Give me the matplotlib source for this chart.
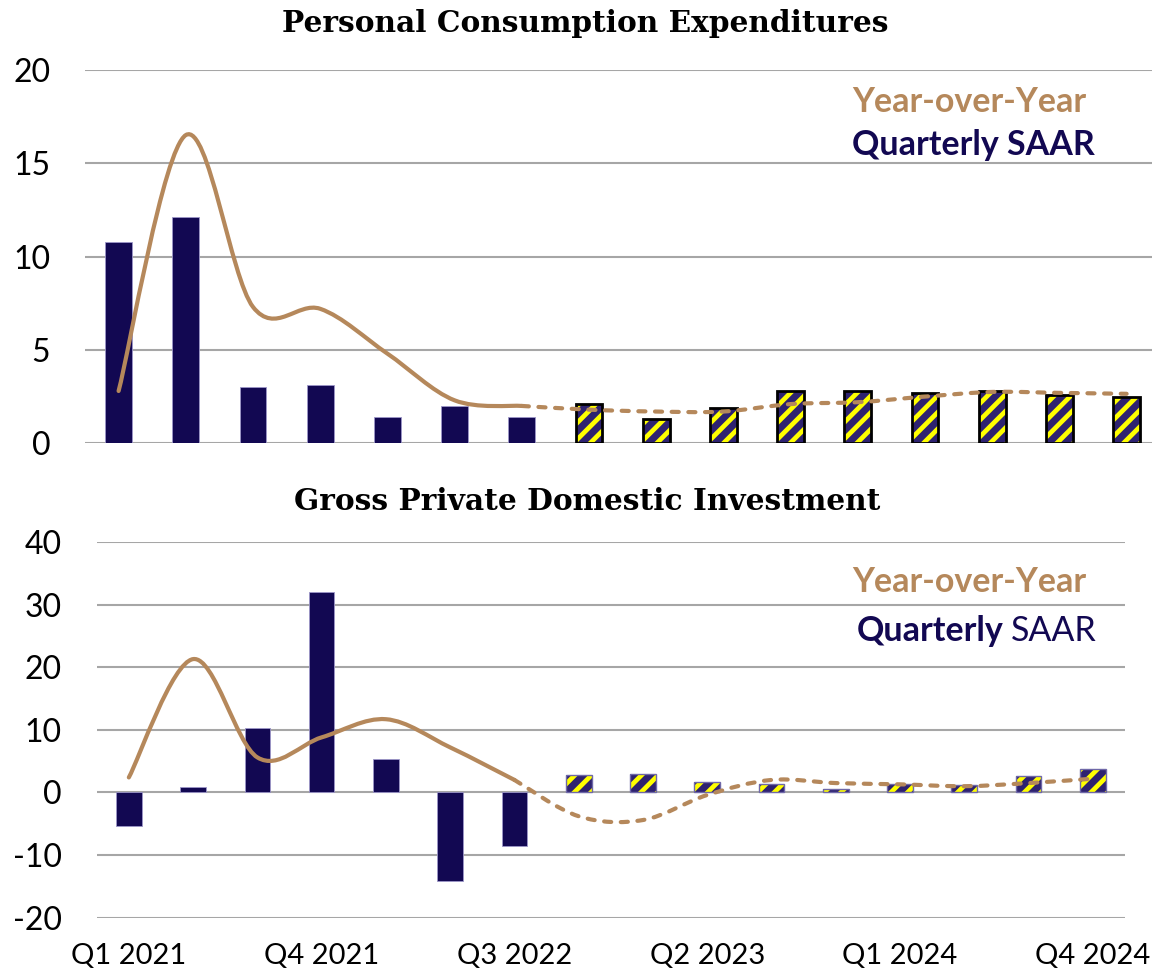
import numpy as np
import matplotlib
matplotlib.use("Agg")
import matplotlib.pyplot as plt
from matplotlib.path import Path
from matplotlib.patches import PathPatch

# data (Q1 2021 .. Q4 2024)
quarters = ["Q1 2021", "Q2 2021", "Q3 2021", "Q4 2021",
            "Q1 2022", "Q2 2022", "Q3 2022", "Q4 2022",
            "Q1 2023", "Q2 2023", "Q3 2023", "Q4 2023",
            "Q1 2024", "Q2 2024", "Q3 2024", "Q4 2024"]
n_actual = 7  # first 7 quarters are actuals, the rest are forecasts

pce_saar = [10.8, 12.1, 3.0, 3.1, 1.4, 2.0, 1.4,
            2.1, 1.3, 1.9, 2.8, 2.8, 2.7, 2.8, 2.6, 2.5]
pce_yoy = [2.8, 16.5, 7.3, 7.2, 4.8, 2.3, 2.0,
           1.8, 1.7, 1.7, 2.1, 2.2, 2.5, 2.75, 2.7, 2.65]

gpdi_saar = [-5.4, 0.8, 10.3, 32.0, 5.4, -14.1, -8.5,
             2.8, 2.9, 1.6, 1.4, 0.5, 1.3, 1.2, 2.7, 3.8]
gpdi_yoy = [2.4, 21.3, 5.6, 8.8, 11.7, 7.2, 2.0,
            -3.8, -4.4, -0.4, 2.0, 1.5, 1.3, 1.0, 1.5, 2.2]

label_idx = [0, 3, 6, 9, 12, 15]

NAVY = "#120852"
HATCH_FILL = "#2e2270"
TAN = "#b5885b"
GRID = "#a6a6a6"

plt.rcParams["hatch.linewidth"] = 3.4
plt.rcParams["font.family"] = ["Lato", "DejaVu Sans"]


def smooth_path(xs, ys):
    # Excel style smoothed line: cubic bezier through every point
    xs = np.asarray(xs, float)
    ys = np.asarray(ys, float)
    pts = np.column_stack([xs, ys])
    ext = np.vstack([pts[0], pts, pts[-1]])
    verts = [pts[0]]
    codes = [Path.MOVETO]
    for i in range(len(pts) - 1):
        p0, p1, p2, p3 = ext[i], ext[i + 1], ext[i + 2], ext[i + 3]
        c1 = p1 + (p2 - p0) / 6.0
        c2 = p2 - (p3 - p1) / 6.0
        verts += [c1, c2, p2]
        codes += [Path.CURVE4] * 3
    return Path(verts, codes)


def draw_panel(ax, saar, yoy, ylim, yticks, hatch_edge, hatch_lw, xlim):
    x = np.arange(len(quarters))
    for yt in yticks:
        ax.axhline(yt, color=GRID, lw=1.5, zorder=0)

    xa = x[:n_actual]
    ax.bar(xa, saar[:n_actual], width=0.4, color=NAVY,
           edgecolor="#9d97c9", linewidth=0.6, zorder=2)

    xf = x[n_actual:]
    ax.bar(xf, saar[n_actual:], width=0.4, color=HATCH_FILL,
           edgecolor="#ffff00", hatch="//", linewidth=0, zorder=2)
    ax.bar(xf, saar[n_actual:], width=0.4, fill=False,
           edgecolor=hatch_edge, linewidth=hatch_lw, zorder=3)

    # year-over-year line, solid for actuals, dashed for forecast
    solid = smooth_path(x[:n_actual], yoy[:n_actual])
    dashed = smooth_path(x[n_actual - 1:], yoy[n_actual - 1:])
    ax.add_patch(PathPatch(solid, fill=False, edgecolor=TAN, lw=3,
                           capstyle="round", zorder=4))
    ax.add_patch(PathPatch(dashed, fill=False, edgecolor=TAN, lw=3,
                           capstyle="round", linestyle=(0, (1.7, 2.3)),
                           zorder=4))

    ax.set_xlim(*xlim)
    ax.set_ylim(*ylim)
    ax.set_yticks(yticks)
    ax.set_yticklabels([str(v) for v in yticks])
    for s in ax.spines.values():
        s.set_visible(False)
    ax.tick_params(axis="y", length=0, pad=25, labelsize=23)
    ax.tick_params(axis="x", length=0, pad=18, labelsize=21)


fig = plt.figure(figsize=(11.52, 9.73), dpi=100)

ax1 = fig.add_axes([85 / 1152, 1 - 443.3 / 973, 1 - 85 / 1152, 373.6 / 973])
draw_panel(ax1, pce_saar, pce_yoy, (0, 20), [0, 5, 10, 15, 20],
           "black", 2.0, (-0.5, -0.5 + 1067 / 67.2))
ax1.set_xticks([])

ax2 = fig.add_axes([96.7 / 1152, 1 - 917.7 / 973, 1028.3 / 1152, 375.7 / 973])
draw_panel(ax2, gpdi_saar, gpdi_yoy, (-20, 40), [-20, -10, 0, 10, 20, 30, 40],
           "#6f68a8", 1.0, (-0.5, 15.5))
ax2.set_xticks(label_idx)
ax2.set_xticklabels([quarters[i] for i in label_idx])

# panel titles
fig.text(585 / 1152, 1 - 24 / 973, "Personal Consumption Expenditures",
         ha="center", va="center", fontsize=21.3, fontweight="bold",
         family="DejaVu Serif")
fig.text(587 / 1152, 1 - 502 / 973, "Gross Private Domestic Investment",
         ha="center", va="center", fontsize=21.3, fontweight="bold",
         family="DejaVu Serif")

# in-chart legends
fig.text(852 / 1152, 1 - 102 / 973, "Year-over-Year", color=TAN,
         fontsize=24.5, fontweight="bold", va="center")
fig.text(852 / 1152, 1 - 145 / 973, "Quarterly SAAR", color=NAVY,
         fontsize=24.5, fontweight="bold", va="center")
fig.text(852 / 1152, 1 - 582 / 973, "Year-over-Year", color=TAN,
         fontsize=24.5, fontweight="bold", va="center")
t = fig.text(857 / 1152, 1 - 631 / 973, "Quarterly", color=NAVY,
             fontsize=24.5, fontweight="bold", va="center")
fig.canvas.draw()
bb = t.get_window_extent()
fig.text((bb.x1 + 7) / fig.bbox.width, 1 - 631 / 973, "SAAR", color=NAVY,
         fontsize=24.5, va="center")

fig.savefig("out.png", dpi=100)
